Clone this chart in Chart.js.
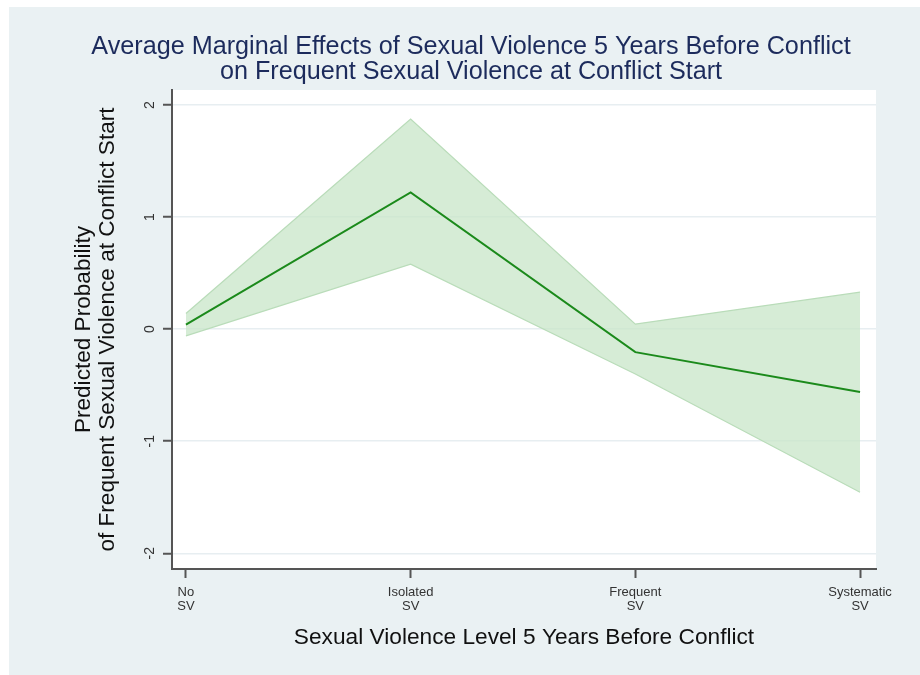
<!DOCTYPE html>
<html>
<head>
<meta charset="utf-8">
<script src="https://cdn.jsdelivr.net/npm/chart.js@4"></script>
<style>
  html, body { margin: 0; padding: 0; background: #ffffff; }
  #wrap { width: 920px; height: 675px; }
</style>
</head>
<body>
<div id="wrap"><canvas id="chart" width="920" height="675"></canvas></div>
<script>
// data
const categories = [['No', 'SV'], ['Isolated', 'SV'], ['Frequent', 'SV'], ['Systematic', 'SV']];
const xPositions = [0, 1, 2, 3];
const margins = [0.04, 1.22, -0.205, -0.56];
const ciUpper = [0.14, 1.875, 0.045, 0.33];
const ciLower = [-0.06, 0.58, -0.40, -1.455];
const yTicks = [-2, -1, 0, 1, 2];

const panelColor = '#eaf1f3';
const fontFamily = '"Liberation Sans", Arial, sans-serif';
const toPoints = vals => vals.map((v, i) => ({ x: xPositions[i], y: v }));

// stata-like backdrop: light panel + white plot region
const backdrop = {
  id: 'backdrop',
  beforeDraw(chart) {
    const { ctx, chartArea: a } = chart;
    ctx.save();
    ctx.fillStyle = '#ffffff';
    ctx.fillRect(0, 0, chart.width, chart.height);
    ctx.fillStyle = panelColor;
    ctx.fillRect(9, 7, chart.width - 9, chart.height - 7);
    ctx.fillStyle = '#ffffff';
    ctx.fillRect(a.left, a.top, a.right - a.left, a.bottom - a.top);
    ctx.restore();
  }
};

const ctx = document.getElementById('chart').getContext('2d');
const chart = new Chart(ctx, {
  type: 'line',
  data: {
    datasets: [
      {
        label: 'margin',
        data: toPoints(margins),
        borderColor: '#1b8a1b',
        borderWidth: 2,
        fill: false,
        pointRadius: 0,
        tension: 0
      },
      {
        label: 'upper',
        data: toPoints(ciUpper),
        borderColor: '#b9dcb9',
        borderWidth: 1.2,
        backgroundColor: 'rgba(200,230,200,0.75)',
        fill: '+1',
        pointRadius: 0,
        tension: 0
      },
      {
        label: 'lower',
        data: toPoints(ciLower),
        borderColor: '#b9dcb9',
        borderWidth: 1.2,
        fill: false,
        pointRadius: 0,
        tension: 0
      }
    ]
  },
  options: {
    responsive: false,
    animation: false,
    layout: { padding: { left: 22, top: 0, right: 0, bottom: 0 } },
    plugins: {
      legend: { display: false },
      tooltip: { enabled: false },
      filler: { drawTime: 'beforeDatasetsDraw' },
      title: {
        display: true,
        text: ['Average Marginal Effects of Sexual Violence 5 Years Before Conflict',
               'on Frequent Sexual Violence at Conflict Start'],
        color: '#1c2b5c',
        font: { family: fontFamily, size: 25.2, weight: 'normal', lineHeight: 25 / 25.2 },
        padding: { top: 34.5, bottom: 5.5 }
      }
    },
    scales: {
      x: {
        type: 'linear',
        min: -0.062,
        max: 3.071,
        afterBuildTicks: s => { s.ticks = xPositions.map(v => ({ value: v })); },
        afterFit: s => { s.height = 106; },
        ticks: {
          callback: v => categories[xPositions.indexOf(v)],
          color: '#333333',
          font: { family: fontFamily, size: 13, lineHeight: 14 / 13 },
          padding: 7,
          maxRotation: 0,
          minRotation: 0
        },
        grid: { drawOnChartArea: false, drawTicks: true, tickLength: 9, tickColor: '#555555', tickWidth: 2 },
        border: { display: true, color: '#555555', width: 2 },
        title: {
          display: true,
          text: 'Sexual Violence Level 5 Years Before Conflict',
          color: '#111111',
          font: { family: fontFamily, size: 22.7, lineHeight: 24 / 22.7 },
          padding: { top: 0, bottom: 25 }
        }
      },
      y: {
        type: 'linear',
        min: -2.14,
        max: 2.134,
        afterBuildTicks: s => { s.ticks = yTicks.map(v => ({ value: v })); },
        afterFit: s => { s.width = 150; },
        ticks: {
          callback: v => String(v),
          color: '#333333',
          font: { family: fontFamily, size: 14 },
          minRotation: 90,
          maxRotation: 90,
          crossAlign: 'center',
          padding: 7
        },
        grid: { color: '#e7eef1', lineWidth: 1.5, drawTicks: true, tickLength: 9, tickColor: '#555555', tickWidth: 2 },
        border: { display: true, color: '#555555', width: 2 },
        title: {
          display: true,
          text: ['Predicted Probability', 'of Frequent Sexual Violence at Conflict Start'],
          color: '#111111',
          font: { family: fontFamily, size: 22.6, lineHeight: 24 / 22.6 },
          padding: { top: 50, bottom: 0 }
        }
      },
      yRight: {
        type: 'linear',
        position: 'right',
        display: true,
        afterFit: s => { s.width = 44; },
        ticks: { display: false },
        grid: { display: false, drawTicks: false },
        border: { display: false }
      }
    }
  },
  plugins: [backdrop]
});
</script>
</body>
</html>
